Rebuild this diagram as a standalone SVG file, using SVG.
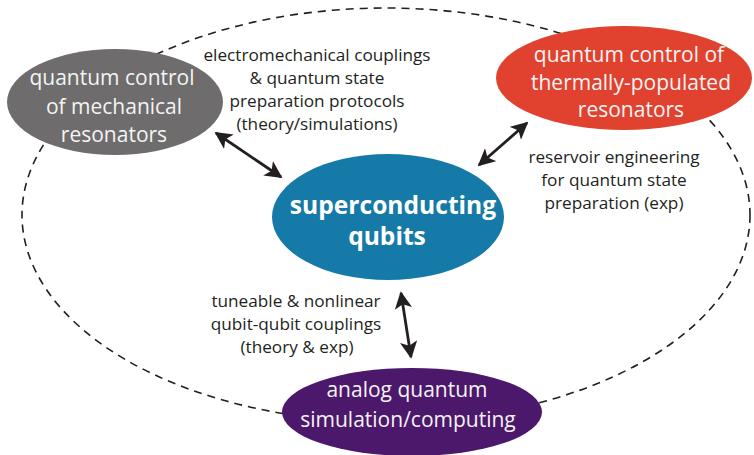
<svg xmlns="http://www.w3.org/2000/svg" width="754" height="455" viewBox="0 0 754 455">
<defs>
<marker id="ah" viewBox="0 0 10 10" refX="9" refY="5" markerWidth="6.2" markerHeight="6.2" orient="auto-start-reverse" markerUnits="strokeWidth">
<path d="M0,0 L10,5 L0,10 L2.5,5 Z" fill="#231f20"/>
</marker>
</defs>
<style>
.loop{fill:none;stroke:#231f20;stroke-width:1.6;stroke-dasharray:8 6}
.arrow{fill:none;stroke:#231f20;stroke-width:2.8;marker-start:url(#ah);marker-end:url(#ah)}
.nt{font-family:"Open Sans","Liberation Sans",sans-serif;font-size:21px;fill:#f4f4f4;text-anchor:middle}
.bt{font-family:"Open Sans","Liberation Sans",sans-serif;font-size:24.6px;font-weight:bold;fill:#ffffff;text-anchor:middle}
.lb{font-family:"Open Sans","Liberation Sans",sans-serif;font-size:17.2px;fill:#231f20;text-anchor:middle}
</style>
<rect width="754" height="455" fill="#ffffff"/>
<ellipse class="loop" cx="386" cy="215" rx="364" ry="207"/>
<g id="connectors">
<line class="arrow" x1="216" y1="133" x2="281" y2="177"/>
<line class="arrow" x1="527" y1="123" x2="479" y2="165"/>
<line class="arrow" x1="401" y1="293" x2="411" y2="357"/>
</g>
<g id="mechanical">
<ellipse cx="115" cy="102" rx="108" ry="53" fill="#6e6c6c"/>
<text class="nt" x="112" y="85">quantum control</text>
<text class="nt" x="114" y="114">of mechanical</text>
<text class="nt" x="114" y="142">resonators</text>
</g>
<g id="thermal">
<ellipse cx="624" cy="78" rx="128" ry="52" fill="#e0422f"/>
<text class="nt" x="629" y="62">quantum control of</text>
<text class="nt" x="631" y="90">thermally-populated</text>
<text class="nt" x="631" y="117">resonators</text>
</g>
<g id="qubits">
<ellipse cx="388" cy="217" rx="116" ry="63" fill="#157aa7"/>
<text class="bt" x="393" y="214">superconducting</text>
<text class="bt" x="387" y="245">qubits</text>
</g>
<g id="analog">
<ellipse cx="412" cy="412" rx="130" ry="44" fill="#4b186b"/>
<text class="nt" x="407" y="397">analog quantum</text>
<text class="nt" x="408" y="427">simulation/computing</text>
</g>
<g id="labels">
<text class="lb" x="317" y="61">electromechanical couplings</text>
<text class="lb" x="317" y="84">&amp; quantum state</text>
<text class="lb" x="317" y="107">preparation protocols</text>
<text class="lb" x="317" y="130">(theory/simulations)</text>
<text class="lb" x="614" y="163">reservoir engineering</text>
<text class="lb" x="614" y="186">for quantum state</text>
<text class="lb" x="614" y="209">preparation (exp)</text>
<text class="lb" x="296" y="307">tuneable &amp; nonlinear</text>
<text class="lb" x="296" y="330">qubit-qubit couplings</text>
<text class="lb" x="297" y="353">(theory &amp; exp)</text>
</g>
</svg>
